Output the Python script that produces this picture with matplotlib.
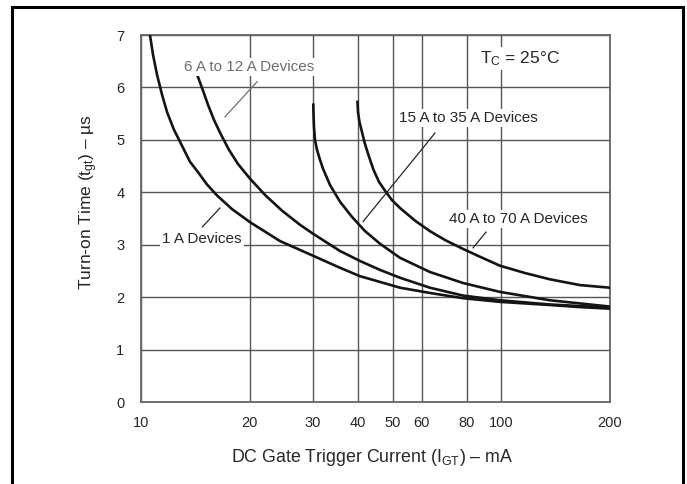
import matplotlib
matplotlib.use("Agg")
import matplotlib.pyplot as plt
from matplotlib.patches import Rectangle

# Turn-on time vs gate trigger current
plt.rcParams["font.family"] = ["Liberation Sans", "DejaVu Sans"]
plt.rcParams["mathtext.fontset"] = "custom"
plt.rcParams["mathtext.rm"] = "Liberation Sans"
plt.rcParams["mathtext.it"] = "Liberation Sans"

# Curve data (IGT in mA, tgt in us)
igt_1a = [10.59, 10.8, 11.08, 11.44, 11.81, 12.35, 13.0, 13.68, 14.30, 15.24, 16.25, 17.88, 20.06,
          24.3, 30.0, 35.65, 40.5, 52.3, 63.3, 78.2, 99.0, 136.3, 165.1, 200]
tgt_1a = [7.0, 6.62, 6.24, 5.86, 5.53, 5.19, 4.885, 4.58, 4.41, 4.15, 3.94, 3.68, 3.43,
          3.07, 2.79, 2.56, 2.40, 2.18, 2.08, 1.98, 1.91, 1.85, 1.81, 1.78]

igt_6a = [14.39, 14.86, 15.34, 15.94, 16.67, 17.54, 18.58, 20.06, 22.08, 24.61, 27.61, 30.0,
          35.65, 40.5, 46.0, 52.3, 63.3, 78.2, 99.0, 136.3, 200]
tgt_6a = [6.20, 5.94, 5.67, 5.38, 5.10, 4.81, 4.54, 4.26, 3.95, 3.65, 3.38, 3.21,
          2.88, 2.69, 2.52, 2.37, 2.18, 2.03, 1.94, 1.86, 1.80]

igt_15a = [30.06, 30.10, 30.19, 30.38, 30.78, 31.37, 31.98, 33.44, 35.65, 38.49, 41.82, 46.0,
           52.3, 63.3, 78.2, 99.0, 136.3, 200]
tgt_15a = [5.67, 5.48, 5.25, 5.0, 4.81, 4.62, 4.45, 4.14, 3.82, 3.53, 3.26, 3.02,
           2.75, 2.48, 2.27, 2.10, 1.94, 1.82]

igt_40a = [39.86, 39.99, 40.38, 40.95, 41.82, 42.9, 44.15, 45.73, 47.52, 49.69, 52.3, 57.55,
           63.3, 69.7, 78.2, 87.18, 99.0, 116.2, 136.3, 165.1, 200]
tgt_40a = [5.725, 5.53, 5.34, 5.17, 4.92, 4.68, 4.43, 4.20, 4.03, 3.85, 3.70, 3.46,
           3.26, 3.09, 2.92, 2.77, 2.60, 2.46, 2.34, 2.23, 2.18]

x_ticks = [10, 20, 30, 40, 50, 60, 80, 100, 200]
y_ticks = [0, 1, 2, 3, 4, 5, 6, 7]

X_LABEL = "DC Gate Trigger Current (I$_\\mathrm{GT}$) – mA"
Y_LABEL = "Turn-on Time (t$_\\mathrm{gt}$) – µs"
TEXT_COLOR = "#262626"


def label(ax, text, xy, leader, color=TEXT_COLOR):
    # text with white box plus a thin leader line
    ax.plot(leader[0], leader[1], color=color, linewidth=0.9, zorder=4)
    ax.text(xy[0], xy[1], text, fontsize=11, color=color, ha="center", va="center",
            bbox=dict(facecolor="white", edgecolor="none", pad=1.5), zorder=5)


def main():
    fig = plt.figure(figsize=(6.87, 4.84), dpi=100)
    ax = fig.add_axes([141 / 687, 82 / 484, 469 / 687, 367 / 484])

    ax.set_xscale("log")
    ax.set_xlim(10, 200)
    ax.set_ylim(0, 7)

    ax.set_xticks(x_ticks)
    ax.set_xticklabels([str(v) for v in x_ticks])
    ax.minorticks_off()
    ax.set_yticks(y_ticks)
    ax.tick_params(length=0, labelsize=10.5, colors=TEXT_COLOR)
    ax.tick_params(axis="y", pad=12)
    ax.tick_params(axis="x", pad=10)

    ax.grid(True, color="#555555", linewidth=1.0)
    ax.set_axisbelow(True)
    for sp in ax.spines.values():
        sp.set_color("#666666")
        sp.set_linewidth(1.3)

    # curves
    for xs, ys in [(igt_1a, tgt_1a), (igt_6a, tgt_6a), (igt_15a, tgt_15a), (igt_40a, tgt_40a)]:
        ax.plot(xs, ys, color="#141414", linewidth=1.9, solid_joinstyle="round", zorder=3)

    label(ax, "6 A to 12 A Devices", (20.0, 6.39), ([17.1, 21.0], [5.44, 6.11]), color="#6e6e6e")
    label(ax, "15 A to 35 A Devices", (81.0, 5.42), ([41.3, 65.4], [3.44, 5.13]))
    label(ax, "40 A to 70 A Devices", (111.1, 3.49), ([83.4, 90.6], [2.94, 3.24]))
    label(ax, "1 A Devices", (14.77, 3.11), ([14.8, 16.56], [3.34, 3.70]))

    ax.text(112.5, 6.55, "T$_\\mathrm{C}$ = 25°C", fontsize=12.5, color=TEXT_COLOR,
            ha="center", va="center", bbox=dict(facecolor="white", edgecolor="none", pad=1.5), zorder=5)

    fig.text(372 / 687, 1 - 462 / 484, X_LABEL, fontsize=12.8, color=TEXT_COLOR,
             ha="center", va="baseline")
    fig.text(92 / 687, 1 - 202.5 / 484, Y_LABEL, fontsize=12.5, color=TEXT_COLOR,
             ha="center", va="baseline", rotation=90, rotation_mode="anchor")

    # outer frame (bottom edge falls off the picture)
    fig.add_artist(Rectangle((12 / 687, -0.02), 671 / 687, 1.02 - 7 / 484,
                             transform=fig.transFigure, fill=False,
                             edgecolor="black", linewidth=2.2, clip_on=False))

    plt.savefig("out.png", dpi=100)
    plt.close()


if __name__ == "__main__":
    main()
